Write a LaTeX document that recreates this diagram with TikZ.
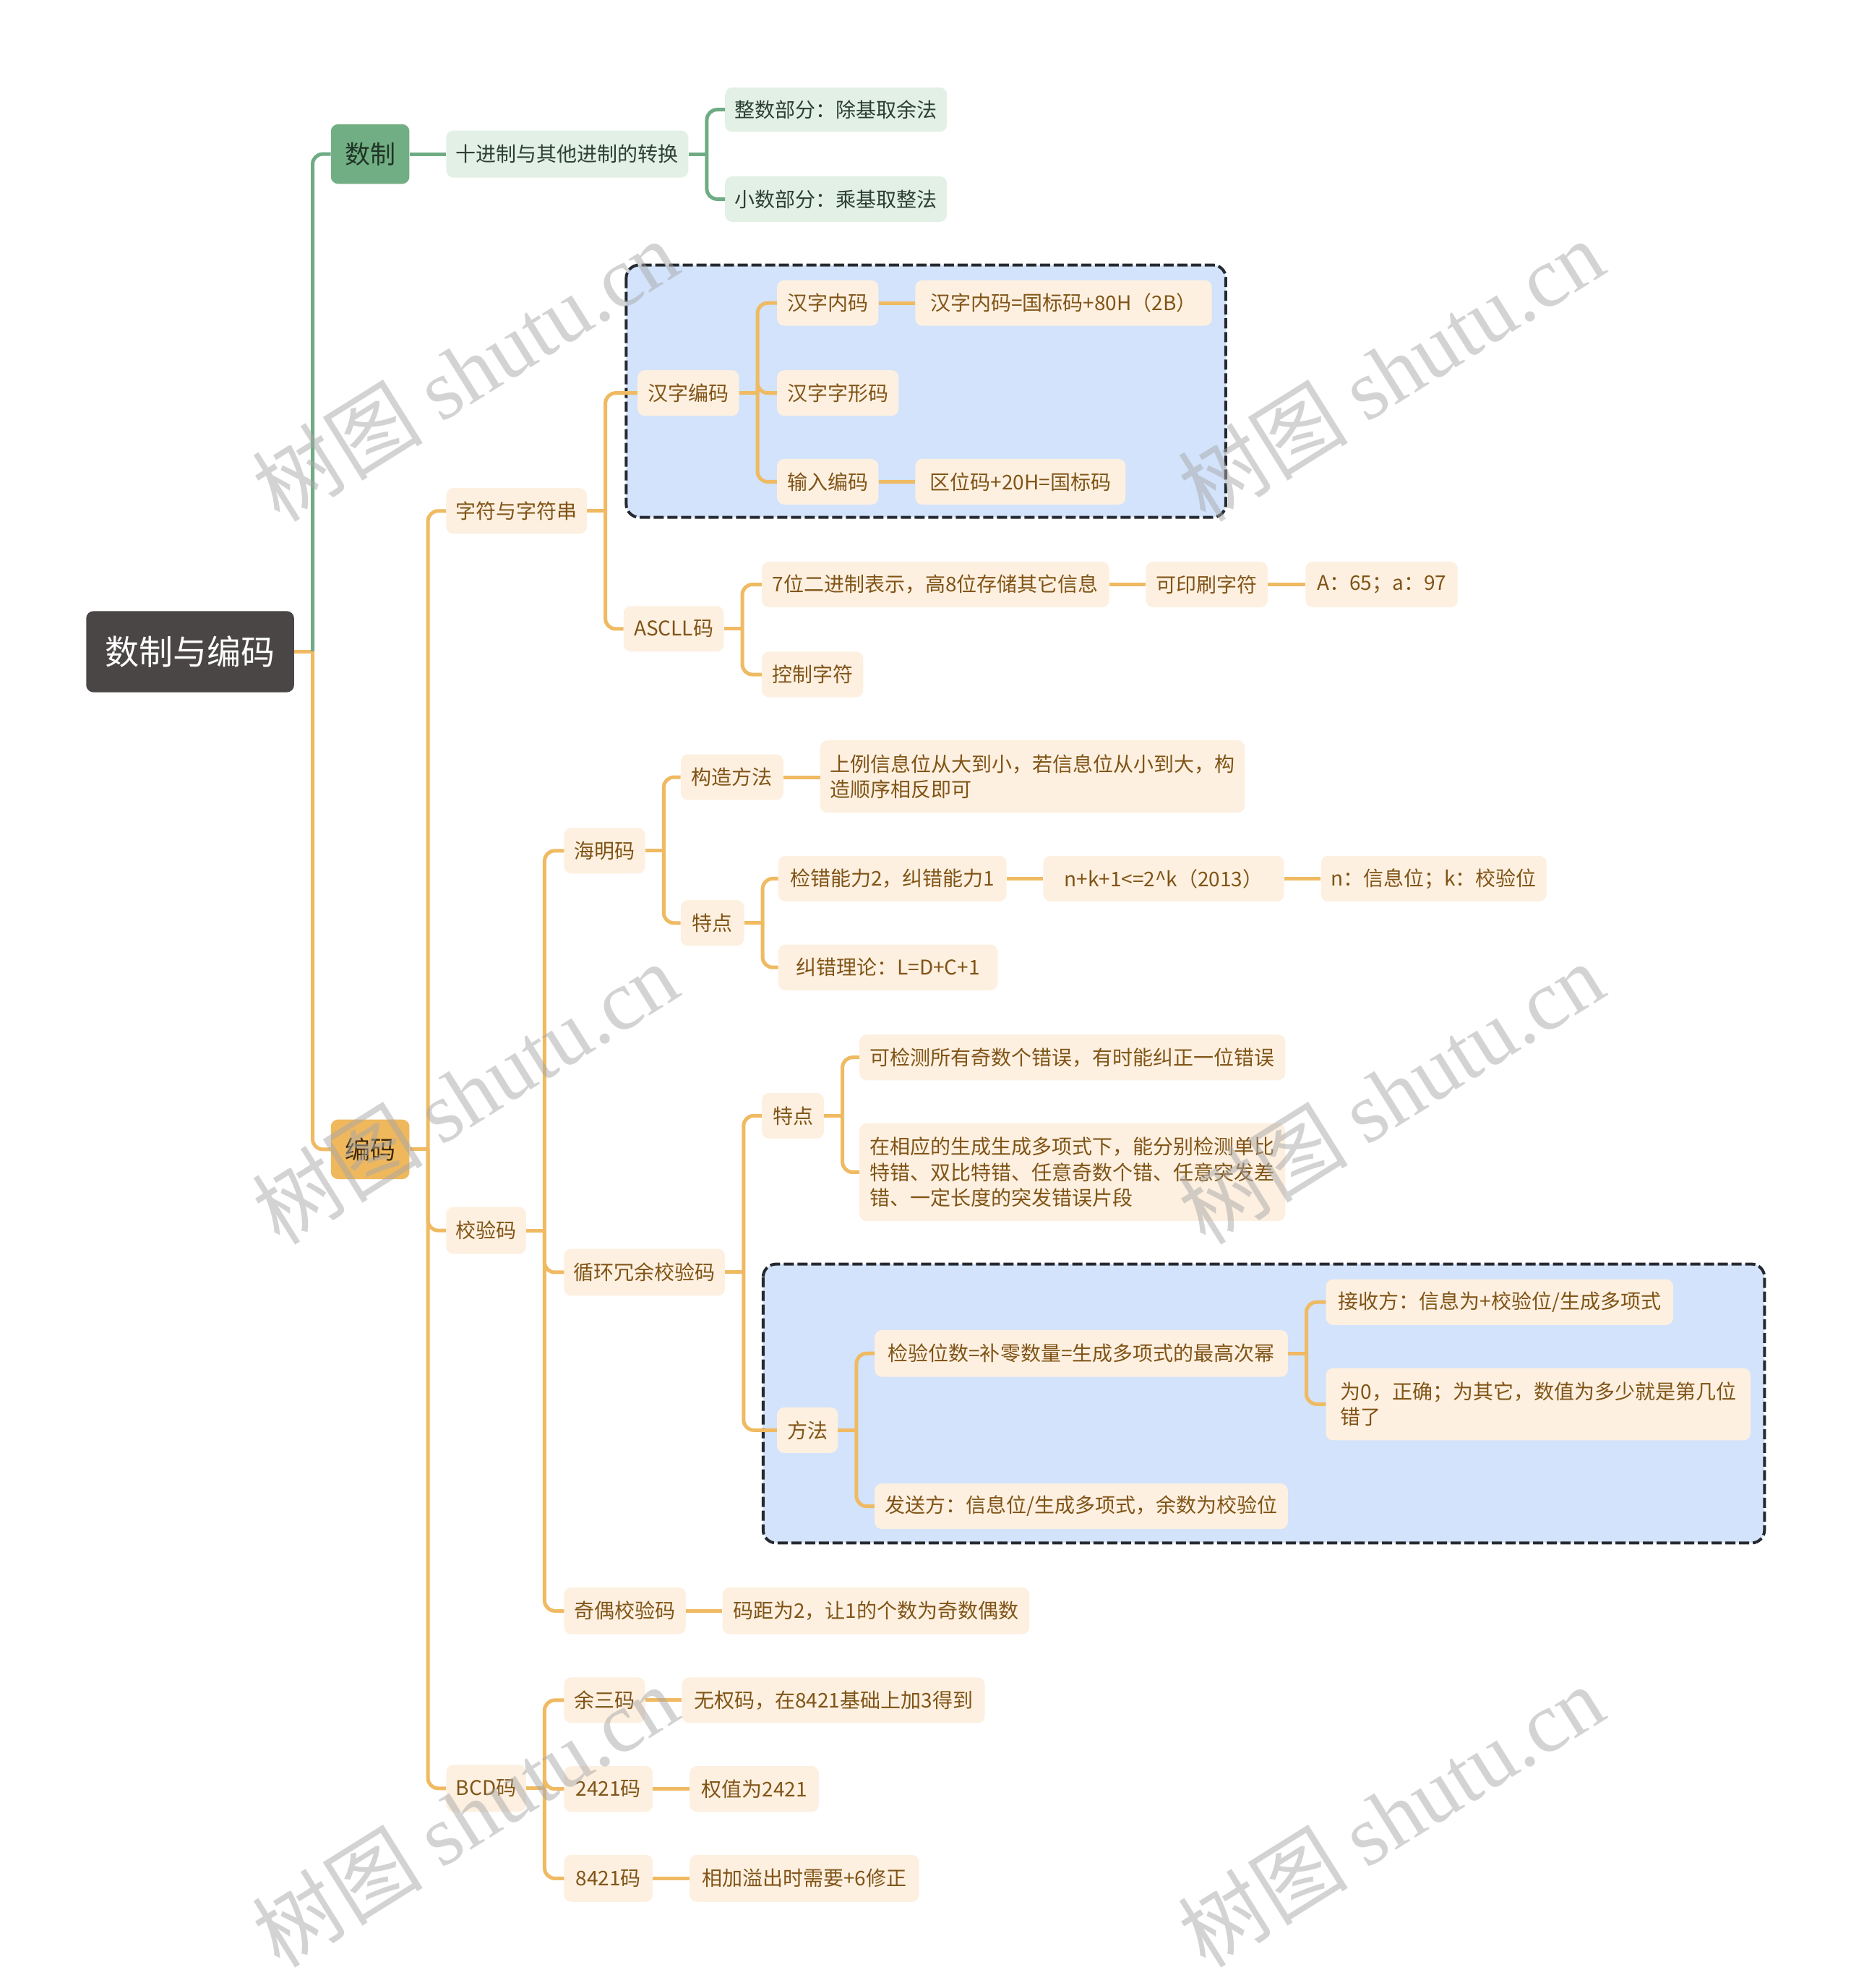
\documentclass[tikz,border=0pt]{standalone}
\usepackage{fontspec}
\setmainfont{Noto Sans CJK SC}
\newfontfamily\wmlatin{Liberation Serif}
\usetikzlibrary{calc}
\definecolor{rootfill}{HTML}{4B4646}
\definecolor{gfill}{HTML}{72AE84}
\definecolor{gtext}{HTML}{1F3526}
\definecolor{glight}{HTML}{E3F0E6}
\definecolor{gltext}{HTML}{2C4033}
\definecolor{gline}{HTML}{6FAB83}
\definecolor{ofill}{HTML}{F0B85C}
\definecolor{otext}{HTML}{3D2A0C}
\definecolor{plight}{HTML}{FDF0E0}
\definecolor{ptext}{HTML}{805417}
\definecolor{oline}{HTML}{EFBA62}
\definecolor{bluebox}{HTML}{D2E3FB}
\definecolor{dashc}{HTML}{262a30}
\definecolor{wm}{HTML}{A8A8A8}
\newcommand\mynode[7]{%
  \pgfmathsetmacro\bw{(#4-#2)*1.7534}%
  \pgfmathsetmacro\bh{(#5-#3)*1.7534}%
  \node[#6, minimum width=\bw pt, minimum height=\bh pt] (#1) at ({(#2+#4)/2},{(#3+#5)/2}) {#7};%
}
\newcommand\stub[2]{\draw[#1] (#2.east) -- ++(14.5,0);}
\newcommand\conn[3]{\draw[#1, rounded corners=14pt] ($(#2.east)+(14.5,0)$) |- (#3.west);}
\newcommand\straight[3]{\draw[#1] (#2.east) -- (#2.east -| #3.west);}
\begin{document}
\begin{tikzpicture}[x=1.7534pt,y=-1.7534pt,
  base/.style={rounded corners=10pt, inner sep=0pt, align=center},
  rootst/.style={base, fill=rootfill, text=white, font=\fontsize{47}{56}\selectfont},
  lvgreen/.style={base, fill=gfill, text=gtext, font=\fontsize{35}{42}\selectfont},
  lvorange/.style={base, fill=ofill, text=otext, font=\fontsize{35}{42}\selectfont},
  gsub/.style={base, fill=glight, text=gltext, font=\fontsize{28}{35}\selectfont},
  psub/.style={base, fill=plight, text=ptext, font=\fontsize{28}{35.5}\selectfont},
  pmulti/.style={psub, align=left},
  gl/.style={gline, line width=5pt},
  ol/.style={oline, line width=5pt},
  dashbox/.style={fill=bluebox, draw=dashc, line width=4pt, dash pattern=on 14pt off 5pt, rounded corners=18pt}
]
\fill[white] (0,0) rectangle (1460,1568);
\useasboundingbox (0,0) rectangle (1460,1568);

% dashed boxes
\draw[dashbox] (494,209) rectangle (967,408);
\draw[dashbox] (602,997) rectangle (1392,1217);

% nodes
\mynode{root}{68}{482}{232}{546}{rootst}{数制与编码}
\mynode{shuzhi}{261}{98}{323}{145}{lvgreen}{数制}
\mynode{bianma}{261}{883}{323}{930}{lvorange}{编码}
\mynode{shijin}{352}{103}{543}{140}{gsub}{十进制与其他进制的转换}
\mynode{zhengshu}{572}{69}{747}{104}{gsub}{整数部分：除基取余法}
\mynode{xiaoshu}{572}{139}{747}{175}{gsub}{小数部分：乘基取整法}

\mynode{zifu}{352}{385}{463}{421}{psub}{字符与字符串}
\mynode{hanzi}{503}{292}{583}{328}{psub}{汉字编码}
\mynode{neima}{613}{221}{693}{257}{psub}{汉字内码}
\mynode{neimaeq}{722}{221}{956}{257}{psub}{汉字内码=国标码+80H（2B）}
\mynode{zixing}{613}{292}{709}{328}{psub}{汉字字形码}
\mynode{shuru}{613}{362}{693}{398}{psub}{输入编码}
\mynode{quwei}{722}{362}{888}{398}{psub}{区位码+20H=国标码}
\mynode{ascll}{492}{478}{571}{514}{psub}{ASCLL码}
\mynode{qiwei}{601}{443}{875}{479}{psub}{7位二进制表示，高8位存储其它信息}
\mynode{keyin}{904}{443}{1000}{479}{psub}{可印刷字符}
\mynode{a65}{1030}{443}{1150}{479}{psub}{A：65；a：97}
\mynode{kongzhi}{601}{514}{681}{550}{psub}{控制字符}

\mynode{jiaoyan}{352}{952}{415}{989}{psub}{校验码}
\mynode{haiming}{445}{653}{509}{689}{psub}{海明码}
\mynode{gouzao}{537}{595}{618}{631}{psub}{构造方法}
\mynode{shangli}{647}{584}{982}{641}{pmulti}{上例信息位从大到小，若信息位从小到大，构\\造顺序相反即可}
\mynode{hmtd}{537}{710}{587}{746}{psub}{特点}
\mynode{jiancuo}{614}{675}{794}{711}{psub}{检错能力2，纠错能力1}
\mynode{nk}{823}{675}{1013}{711}{psub}{n+k+1<=2\textasciicircum k（2013）}
\mynode{nxin}{1042}{675}{1220}{711}{psub}{n：信息位；k：校验位}
\mynode{jiucuo}{614}{745}{787}{781}{psub}{纠错理论：L=D+C+1}

\mynode{xunhuan}{445}{985}{572}{1022}{psub}{循环冗余校验码}
\mynode{crctd}{601}{862}{650}{898}{psub}{特点}
\mynode{kejian}{678}{816}{1014}{852}{psub}{可检测所有奇数个错误，有时能纠正一位错误}
\mynode{zaixiang}{678}{886}{1014}{963}{pmulti}{在相应的生成生成多项式下，能分别检测单比\\特错、双比特错、任意奇数个错、任意突发差\\错、一定长度的突发错误片段}
\mynode{fangfa}{613}{1110}{661}{1146}{psub}{方法}
\mynode{jianyan}{690}{1049}{1016}{1086}{psub}{检验位数=补零数量=生成多项式的最高次幂}
\mynode{jieshou}{1046}{1009}{1320}{1045}{psub}{接收方：信息为+校验位/生成多项式}
\mynode{wei0}{1046}{1079}{1381}{1136}{pmulti}{为0，正确；为其它，数值为多少就是第几位\\错了}
\mynode{fasong}{690}{1170}{1016}{1206}{psub}{发送方：信息位/生成多项式，余数为校验位}

\mynode{jiou}{445}{1252}{541}{1289}{psub}{奇偶校验码}
\mynode{maju}{570}{1252}{812}{1289}{psub}{码距为2，让1的个数为奇数偶数}

\mynode{bcd}{352}{1392}{415}{1429}{psub}{BCD码}
\mynode{yusan}{445}{1323}{509}{1359}{psub}{余三码}
\mynode{wuquan}{538}{1323}{777}{1359}{psub}{无权码，在8421基础上加3得到}
\mynode{e2421}{445}{1393}{515}{1429}{psub}{2421码}
\mynode{quanzhi}{544}{1393}{646}{1429}{psub}{权值为2421}
\mynode{e8421}{445}{1463}{515}{1500}{psub}{8421码}
\mynode{xiangjia}{544}{1463}{725}{1500}{psub}{相加溢出时需要+6修正}

% connectors
\stub{ol}{root}
\conn{gl}{root}{shuzhi}
\conn{ol}{root}{bianma}
\straight{gl}{shuzhi}{shijin}
\stub{gl}{shijin}
\conn{gl}{shijin}{zhengshu}
\conn{gl}{shijin}{xiaoshu}

\stub{ol}{bianma}
\conn{ol}{bianma}{zifu}
\conn{ol}{bianma}{jiaoyan}
\conn{ol}{bianma}{bcd}

\stub{ol}{zifu}
\conn{ol}{zifu}{hanzi}
\conn{ol}{zifu}{ascll}
\stub{ol}{hanzi}
\conn{ol}{hanzi}{neima}
\conn{ol}{hanzi}{zixing}
\conn{ol}{hanzi}{shuru}
\straight{ol}{neima}{neimaeq}
\straight{ol}{shuru}{quwei}
\stub{ol}{ascll}
\conn{ol}{ascll}{qiwei}
\conn{ol}{ascll}{kongzhi}
\straight{ol}{qiwei}{keyin}
\straight{ol}{keyin}{a65}

\stub{ol}{jiaoyan}
\conn{ol}{jiaoyan}{haiming}
\conn{ol}{jiaoyan}{xunhuan}
\conn{ol}{jiaoyan}{jiou}
\stub{ol}{haiming}
\conn{ol}{haiming}{gouzao}
\conn{ol}{haiming}{hmtd}
\straight{ol}{gouzao}{shangli}
\stub{ol}{hmtd}
\conn{ol}{hmtd}{jiancuo}
\conn{ol}{hmtd}{jiucuo}
\straight{ol}{jiancuo}{nk}
\straight{ol}{nk}{nxin}

\stub{ol}{xunhuan}
\conn{ol}{xunhuan}{crctd}
\conn{ol}{xunhuan}{fangfa}
\stub{ol}{crctd}
\conn{ol}{crctd}{kejian}
\conn{ol}{crctd}{zaixiang}
\stub{ol}{fangfa}
\conn{ol}{fangfa}{jianyan}
\conn{ol}{fangfa}{fasong}
\stub{ol}{jianyan}
\conn{ol}{jianyan}{jieshou}
\conn{ol}{jianyan}{wei0}
\straight{ol}{jiou}{maju}

\stub{ol}{bcd}
\conn{ol}{bcd}{yusan}
\conn{ol}{bcd}{e2421}
\conn{ol}{bcd}{e8421}
\straight{ol}{yusan}{wuquan}
\straight{ol}{e2421}{quanzhi}
\straight{ol}{e8421}{xiangjia}

% watermarks
\foreach \wx/\wy [count=\i] in {367/292, 1097/292, 367/862, 1097/862, 367/1432, 1097/1432}{
  \node[text=wm, opacity=0.5, rotate=32, inner sep=0pt, font=\fontsize{118}{120}\selectfont] (wm\i) at (\wx,\wy) {树图 {\wmlatin shutu.cn}};
}
\end{tikzpicture}
\end{document}
